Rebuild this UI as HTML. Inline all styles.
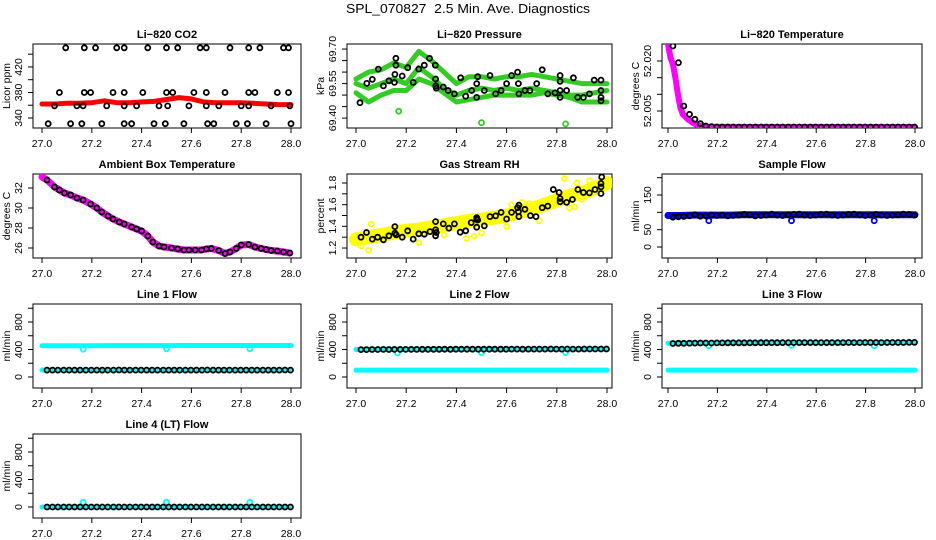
<!DOCTYPE html>
<html><head><meta charset="utf-8"><style>
html,body{margin:0;padding:0;background:#fff;}
svg{display:block;font-family:"Liberation Sans",sans-serif;}
</style></head><body>
<svg id="fig" width="936" height="540" viewBox="0 0 936 540" xmlns="http://www.w3.org/2000/svg">
<text x="468" y="13" text-anchor="middle" font-size="13" textLength="244" lengthAdjust="spacingAndGlyphs" style="white-space:pre">SPL_070827  2.5 Min. Ave. Diagnostics</text>
</svg>
<script>
// ---------- shared data ----------
const times=[27.02,27.042,27.064,27.087,27.109,27.131,27.153,27.176,27.198,27.22,27.242,27.264,27.287,27.309,27.331,27.353,27.376,27.398,27.42,27.442,27.464,27.487,27.509,27.531,27.553,27.576,27.598,27.62,27.642,27.664,27.687,27.709,27.731,27.753,27.776,27.798,27.82,27.842,27.864,27.887,27.909,27.931,27.953,27.976,27.998];
const bandX=[27.0,27.05,27.1,27.15,27.2,27.25,27.3,27.35,27.4,27.45,27.5,27.55,27.6,27.65,27.7,27.75,27.8,27.85,27.9,27.95,28.0];
const dipX=[27.165,27.5,27.835];
// CO2
const co2X=[27.095,27.17,27.215,27.30,27.33,27.425,27.50,27.545,27.635,27.66,27.755,27.83,27.875,27.97,27.99,27.07,27.17,27.195,27.285,27.33,27.405,27.50,27.525,27.61,27.66,27.735,27.83,27.855,27.945,27.99,27.05,27.14,27.165,27.26,27.33,27.38,27.47,27.505,27.59,27.66,27.71,27.80,27.83,27.92,27.995,27.025,27.115,27.16,27.24,27.33,27.36,27.45,27.495,27.57,27.665,27.69,27.78,27.825,27.90,28.0];
const co2Y=[450,450,450,450,450,450,450,450,450,450,450,450,450,450,450,380,380,380,380,380,380,380,380,380,380,380,380,380,380,380,359,359,359,359,359,359,359,359,359,359,359,359,359,359,359,331,331,331,331,331,331,331,331,331,331,331,331,331,331,331];
const co2Band=[362,362,363,363,364,367,364,364,365,366,369,372,370,365,364,364,364,363,362,361,361];
// Pressure
const presUpper=[69.57,69.60,69.61,69.64,69.62,69.69,69.65,69.60,69.55,69.58,69.58,69.57,69.58,69.58,69.59,69.58,69.57,69.56,69.55,69.55,69.55];
const presMiddle=[69.55,69.53,69.55,69.57,69.55,69.62,69.58,69.53,69.50,69.52,69.53,69.52,69.53,69.52,69.53,69.52,69.51,69.50,69.50,69.51,69.52];
const presLower=[69.51,69.47,69.50,69.52,69.52,69.57,69.55,69.51,69.47,69.48,69.49,69.50,69.50,69.50,69.50,69.51,69.50,69.49,69.47,69.47,69.47];
const presOutX=[27.17,27.50,27.835];
const presOutY=[69.43,69.38,69.375];
const presX=[27.016,27.043,27.065,27.089,27.109,27.131,27.153,27.155,27.159,27.159,27.184,27.206,27.228,27.25,27.272,27.293,27.316,27.317,27.318,27.32,27.348,27.367,27.392,27.417,27.437,27.461,27.481,27.481,27.485,27.511,27.534,27.556,27.578,27.600,27.620,27.644,27.649,27.647,27.673,27.693,27.72,27.742,27.764,27.793,27.813,27.813,27.813,27.813,27.839,27.866,27.883,27.906,27.93,27.949,27.976,27.976,27.976,27.976];
const presY=[69.467,69.551,69.568,69.613,69.540,69.562,69.555,69.590,69.660,69.63,69.583,69.619,69.555,69.613,69.63,69.66,69.63,69.57,69.54,69.53,69.535,69.52,69.505,69.575,69.495,69.52,69.55,69.49,69.58,69.52,69.585,69.505,69.52,69.55,69.585,69.60,69.505,69.55,69.52,69.52,69.55,69.61,69.505,69.51,69.49,69.585,69.56,69.52,69.52,69.575,69.49,69.49,69.505,69.565,69.565,69.52,69.49,69.475];
// Li-820 temperature
const tempCurveX=[27.0,27.01,27.02,27.03,27.04,27.05,27.06,27.08,27.1,27.12,27.15,27.3,27.5,27.7,27.9,28.0];
const tempCurveY=[52.025,52.021,52.019,52.015,52.010,52.006,52.004,52.0025,52.0015,52.0007,52.0003,52.0002,52.0002,52.0002,52.0002,52.0002];
const tempY=[52.0245,52.0195,52.0065,52.004,52.0025,52.0012,52.0005,52.0003,52.0002,52.0002,52.0002,52.0002,52.0002,52.0002,52.0002,52.0002,52.0002,52.0002,52.0002,52.0002,52.0002,52.0002,52.0002,52.0002,52.0002,52.0002,52.0002,52.0002,52.0002,52.0002,52.0002,52.0002,52.0002,52.0002,52.0002,52.0002,52.0002,52.0002,52.0002,52.0002,52.0002,52.0002,52.0002,52.0002,52.0002];
// Ambient box temperature
const ambX=[27.0,27.02,27.05,27.07,27.09,27.115,27.14,27.165,27.195,27.22,27.24,27.265,27.285,27.31,27.33,27.36,27.38,27.40,27.425,27.445,27.47,27.49,27.52,27.545,27.57,27.59,27.615,27.64,27.66,27.68,27.71,27.735,27.755,27.78,27.80,27.83,27.855,27.88,27.90,27.92,27.945,27.97,27.995];
const ambY=[33.1,32.8,32.1,31.8,31.5,31.3,31.0,30.8,30.4,30.0,29.6,29.2,28.9,28.6,28.4,28.1,27.9,27.7,27.2,26.6,26.2,26.1,26.0,25.9,25.8,25.8,25.8,25.8,25.9,25.95,25.75,25.45,25.6,25.95,26.3,26.35,26.1,25.95,25.85,25.75,25.7,25.6,25.5];
// Gas stream RH
const rhBand=[1.28,1.30,1.32,1.34,1.36,1.37,1.39,1.41,1.43,1.45,1.46,1.48,1.50,1.53,1.56,1.60,1.64,1.68,1.71,1.75,1.80];
const rhOutX=[27.02,27.05,27.06,27.25,27.44,27.47,27.5,27.62,27.66,27.69,27.73,27.85,27.87,27.9,27.83,27.88,27.93,27.6,27.35];
const rhOutY=[1.22,1.18,1.42,1.25,1.29,1.31,1.34,1.60,1.62,1.61,1.45,1.57,1.58,1.65,1.84,1.80,1.82,1.40,1.32];
const rhX=[27.02,27.042,27.065,27.086,27.109,27.131,27.155,27.155,27.16,27.184,27.206,27.228,27.25,27.272,27.295,27.317,27.317,27.317,27.32,27.348,27.37,27.392,27.415,27.437,27.459,27.481,27.481,27.481,27.485,27.511,27.534,27.556,27.578,27.6,27.62,27.644,27.647,27.649,27.649,27.673,27.695,27.717,27.742,27.764,27.786,27.809,27.813,27.813,27.839,27.862,27.884,27.906,27.93,27.952,27.976,27.979,27.976,27.976];
const rhY=[1.30,1.343,1.282,1.30,1.276,1.313,1.398,1.337,1.322,1.30,1.359,1.282,1.331,1.328,1.352,1.444,1.368,1.313,1.343,1.423,1.383,1.423,1.346,1.359,1.435,1.48,1.465,1.392,1.459,1.404,1.49,1.496,1.529,1.468,1.529,1.572,1.535,1.596,1.49,1.557,1.499,1.49,1.572,1.587,1.74,1.712,1.657,1.627,1.621,1.648,1.74,1.712,1.709,1.74,1.703,1.855,1.795,1.764];
// Sample flow
const sampleBand=[91,91,92,92,92,92,93,93,93,93,93,93,93,93,93,93,93,93,93,93,93];
const sampleDip=[76,76,76];
const sampleY=[86,87,88,90,93,89,90,92,91,92,90,91,92,94,93,90,91,92,95,92,91,93,94,95,92,91,92,94,95,92,91,92,94,95,93,91,92,94,92,91,92,93,95,94,92];
// Line flows
const line1Band=[455,455,456,456,456,457,457,457,457,457,457,458,458,458,458,458,458,458,458,458,458];
const line1Low=[100,100,100,100,100,100,100,100,100,100,100,100,100,100,100,100,100,100,100,100,100];
const line1Y=[100,100,101,100,100,101,100,101,100,101,100,100,101,102,101,100,100,101,100,101,100,100,101,100,100,101,100,101,100,102,100,101,100,101,100,101,101,100,101,100,101,100,101,102,101];
const line1Dip=[405,410,410];
const line2Band=[400,401,401,402,402,402,402,403,403,403,404,404,404,404,405,405,405,405,405,406,406];
const line2Low=[100,100,100,100,100,100,100,100,100,100,100,100,100,100,100,100,100,100,100,100,100];
const line2Y=[398,399,400,400,401,400,401,401,402,402,402,403,403,403,403,404,403,404,404,404,405,405,405,404,405,405,405,406,406,405,406,406,406,406,407,406,406,407,406,406,407,407,407,408,408];
const line2Dip=[350,355,355];
const line3Band=[490,492,493,494,495,496,496,497,497,498,498,499,499,500,500,500,500,501,501,501,501];
const line3Low=[100,100,100,100,100,100,100,100,100,100,100,100,100,100,100,100,100,100,100,100,100];
const line3Y=[488,490,491,492,493,494,495,495,496,496,497,497,497,498,498,498,499,499,499,499,500,500,500,500,500,500,501,501,501,501,501,501,502,501,501,502,502,502,501,502,502,502,502,503,503];
const line3Dip=[455,460,455];
const line4Band=[0,0,0,0,0,0,0,0,0,0,0,0,0,0,0,0,0,0,0,0,0];
const line4Y=[0,0,0,0,0,0,0,0,0,0,0,0,0,0,0,0,0,0,0,0,0,0,0,0,0,0,0,0,0,0,0,0,0,0,0,0,0,0,0,0,0,0,0,0,0];
const line4Bump=[70,70,70];
// tick arrays
const xTicks=[27.0,27.2,27.4,27.6,27.8,28.0];
const xTickLabels=["27.0","27.2","27.4","27.6","27.8","28.0"];

// ---------- drawing ----------
const NS="http://www.w3.org/2000/svg";
const svg=document.getElementById('fig');
const cols=[{l:33,r:301,x0:42,x1:291},{l:347,r:612,x0:356,x1:607},{l:662,r:922,x0:668,x1:915}];
const rowsTop=[44,174,304,434];
const H=84;
function mk(tag,attrs,parent){const e=document.createElementNS(NS,tag);for(const k in attrs)e.setAttribute(k,attrs[k]);(parent||svg).appendChild(e);return e;}

function makePanel(c,r,name,title,ylab,ymin,ymax,ticks,labels){
  const g=mk('g',{});
  
  
  const col=cols[c],top=rowsTop[r],bot=top+H;
  const xs=v=>col.x0+(v-27)/(28-27)*(col.x1-col.x0);
  const ys=v=>bot-(v-ymin)/(ymax-ymin)*H;
  const t=mk('text',{x:(col.l+col.r)/2,y:top-6,'text-anchor':'middle','font-size':11,'font-weight':'bold'},g);
  t.textContent=title;
  
  
  const box=mk('rect',{x:col.l,y:top,width:col.r-col.l,height:H,fill:'none',stroke:'#000','stroke-width':1},g);
  
  
  const xa=mk('g',{},g);
  
  
  mk('line',{x1:xs(xTicks[0]),x2:xs(xTicks[xTicks.length-1]),y1:bot,y2:bot,stroke:'#000'},xa);
  xTicks.forEach((v,i)=>{
    mk('line',{x1:xs(v),x2:xs(v),y1:bot,y2:bot+5,stroke:'#000'},xa);
    const tl=mk('text',{x:xs(v),y:bot+19,'text-anchor':'middle','font-size':10.5},xa);
    tl.textContent=xTickLabels[i];
    
    
  });
  const ya=mk('g',{},g);
  
  
  mk('line',{x1:col.l,x2:col.l,y1:ys(ticks[0]),y2:ys(ticks[ticks.length-1]),stroke:'#000'},ya);
  ticks.forEach(v=>mk('line',{x1:col.l-5,x2:col.l,y1:ys(v),y2:ys(v),stroke:'#000'},ya));
  labels.forEach(l=>{
    const lx=col.l-11,ly=ys(parseFloat(l));
    const tl=mk('text',{x:lx,y:ly,'text-anchor':'middle','font-size':10.5,transform:`rotate(-90 ${lx} ${ly})`},ya);
    tl.textContent=l;
    
    
  });
  const yl=mk('text',{x:col.l-23,y:top+H/2,'text-anchor':'middle','font-size':10.5,transform:`rotate(-90 ${col.l-23} ${top+H/2})`},g);
  yl.textContent=ylab;
  
  
  const clip=mk('clipPath',{id:'clip'+name},g);
  mk('rect',{x:col.l,y:top,width:col.r-col.l,height:H},clip);
  const plot=mk('g',{'clip-path':`url(#clip${name})`},g);
  
  
  return {xs,ys,plot};
}
function band(p,X,Y,color,w,nm){
  const d=X.map((x,i)=>(i?'L':'M')+p.xs(x).toFixed(1)+' '+p.ys(Y[i]).toFixed(1)).join(' ');
  const e=mk('path',{d:d,fill:'none',stroke:color,'stroke-width':w,'stroke-linejoin':'round','stroke-linecap':'round'},p.plot);
  
  
}
function pts(p,X,Y,color,nm){
  X.forEach((x,i)=>{
    const e=mk('circle',{cx:p.xs(x).toFixed(1),cy:p.ys(Y[i]).toFixed(1),r:2.5,fill:'none',stroke:color,'stroke-width':1.8},p.plot);
    
    
  });
}

let p=makePanel(0,0,'co2','Li−820 CO2','Licor ppm',324.3,456,[340,360,380,400,420,440],['340','380','420']);
band(p,bandX,co2Band,'#ff0000',5,'co2-raw-band');
pts(p,co2X,co2Y,'#000','co2-average-point');

p=makePanel(1,0,'pressure','Li−820 Pressure','kPa',69.357,69.722,[69.40,69.45,69.50,69.55,69.60,69.65,69.70],['69.40','69.55','69.70']);
band(p,bandX,presUpper,'#33cc22',5,'pressure-raw-band-upper');
band(p,bandX,presMiddle,'#33cc22',5,'pressure-raw-band-middle');
band(p,bandX,presLower,'#33cc22',5,'pressure-raw-band-lower');
pts(p,presOutX,presOutY,'#33cc22','pressure-raw-outlier');
pts(p,presX,presY,'#000','pressure-average-point');

p=makePanel(2,0,'li820-temp','Li−820 Temperature','degrees C',51.9999,52.0251,[52.005,52.010,52.015,52.020],['52.020','52.005']);
band(p,tempCurveX,tempCurveY,'#ff00ff',6,'li820-temp-raw-band');
pts(p,times,tempY,'#000','li820-temp-average-point');

p=makePanel(0,1,'ambient','Ambient Box Temperature','degrees C',25.0,33.4,[26,28,30,32],['26','28','30','32']);
band(p,ambX,ambY,'#ff00ff',7,'ambient-raw-band');
pts(p,ambX.slice(1),ambY.slice(1),'#000','ambient-average-point');

p=makePanel(1,1,'rh','Gas Stream RH','percent',1.108,1.883,[1.2,1.3,1.4,1.5,1.6,1.7,1.8],['1.2','1.4','1.6','1.8']);
band(p,bandX,rhBand,'#ffff00',14,'rh-raw-band');
pts(p,rhOutX,rhOutY,'#ffff00','rh-raw-outlier');
pts(p,rhX,rhY,'#000','rh-average-point');

p=makePanel(2,1,'sample-flow','Sample Flow','ml/min',-31.7,210.6,[0,50,100,150,200],['0','50','150']);
band(p,bandX,sampleBand,'#0000ff',7,'sample-flow-raw-band');
pts(p,dipX,sampleDip,'#0000ff','sample-flow-raw-dip');
pts(p,times,sampleY,'#000','sample-flow-average-point');

const flowTicks=[0,200,400,600,800,1000],flowLabels=['0','400','800'];
p=makePanel(0,2,'line1','Line 1 Flow','ml/min',-160,1062,flowTicks,flowLabels);
band(p,bandX,line1Band,'#00ffff',5,'line1-raw-band');
band(p,bandX,line1Low,'#00ffff',5,'line1-raw-low-band');
pts(p,dipX,line1Dip,'#00ffff','line1-raw-dip');
pts(p,times,line1Y,'#000','line1-average-point');
p=makePanel(1,2,'line2','Line 2 Flow','ml/min',-160,1062,flowTicks,flowLabels);
band(p,bandX,line2Band,'#00ffff',5,'line2-raw-band');
band(p,bandX,line2Low,'#00ffff',5,'line2-raw-low-band');
pts(p,dipX,line2Dip,'#00ffff','line2-raw-dip');
pts(p,times,line2Y,'#000','line2-average-point');
p=makePanel(2,2,'line3','Line 3 Flow','ml/min',-160,1062,flowTicks,flowLabels);
band(p,bandX,line3Band,'#00ffff',5,'line3-raw-band');
band(p,bandX,line3Low,'#00ffff',5,'line3-raw-low-band');
pts(p,dipX,line3Dip,'#00ffff','line3-raw-dip');
pts(p,times,line3Y,'#000','line3-average-point');
p=makePanel(0,3,'line4','Line 4 (LT) Flow','ml/min',-160,1062,flowTicks,flowLabels);
band(p,bandX,line4Band,'#00ffff',5,'line4-raw-band');
pts(p,dipX,line4Bump,'#00ffff','line4-raw-bump');
pts(p,times,line4Y,'#000','line4-average-point');
</script>
</body></html>
